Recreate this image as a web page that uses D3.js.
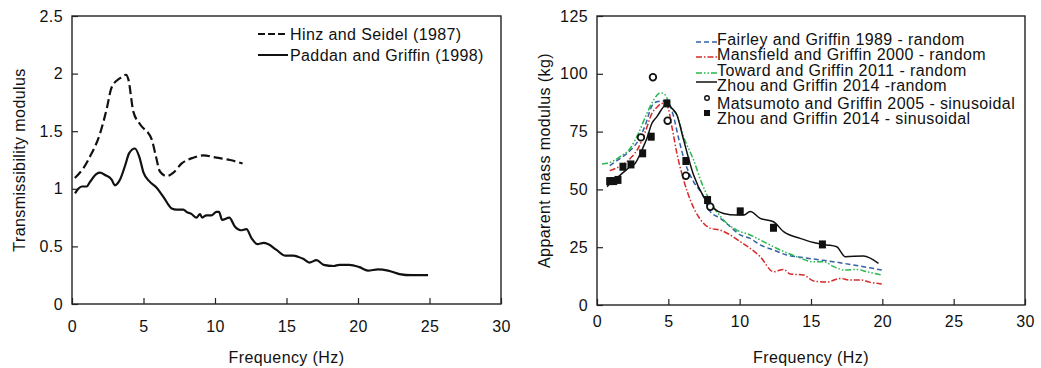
<!DOCTYPE html>
<html><head><meta charset="utf-8">
<script src="https://cdn.jsdelivr.net/npm/d3@7"></script>
<style>body{margin:0;background:#fff}svg{display:block}text{font-family:"Liberation Sans",Arial,sans-serif;fill:#111}</style>
</head><body><svg id="c" width="1041" height="368"></svg>
<script>
// ---- Left chart data ----
const leftXTicks = [0,5,10,15,20,25,30];
const leftYTicks = [0,0.5,1,1.5,2,2.5];
const hinzX = [0.2,0.8,1.26,1.96,2.42,2.77,3.36,3.78,3.94,4.29,4.76,5.57,5.87,6.15,6.62,7.09,7.67,8.48,9.18,10.1,11.05,11.93];
const hinzY = [1.094,1.18,1.28,1.48,1.69,1.88,1.96,1.99,1.95,1.67,1.56,1.43,1.28,1.15,1.11,1.14,1.22,1.27,1.29,1.27,1.25,1.22];
const paddanX = [0.21,0.44,0.68,1.03,1.26,1.72,1.96,2.31,2.77,3.0,3.36,3.71,4.0,4.4,4.7,5.0,5.45,5.92,6.39,6.97,7.32,7.79,8.0,8.37,8.7,8.95,9.1,9.4,9.77,10.1,10.28,10.5,11.0,11.4,11.8,12.2,12.56,12.96,13.4,13.7,14.3,14.9,15.5,15.8,16.2,16.6,17.1,17.6,18.3,18.7,19.4,20.1,20.7,21.4,22.1,22.9,23.75,24.9];
const paddanY = [0.96,1.0,1.02,1.02,1.06,1.13,1.14,1.12,1.08,1.03,1.08,1.2,1.31,1.35,1.28,1.14,1.06,1.01,0.93,0.83,0.82,0.82,0.80,0.78,0.75,0.78,0.75,0.77,0.77,0.80,0.80,0.73,0.75,0.67,0.64,0.65,0.57,0.52,0.53,0.52,0.47,0.42,0.42,0.41,0.39,0.36,0.38,0.34,0.33,0.34,0.34,0.32,0.29,0.30,0.29,0.26,0.25,0.25];
const leftLegend = ["Hinz and Seidel (1987)","Paddan and Griffin (1998)"];

// ---- Right chart data ----
const rightXTicks = [0,5,10,15,20,25,30];
const rightYTicks = [0,25,50,75,100,125];
const fairleyX = [0.89,1.63,2.33,2.92,3.39,3.85,4.2,4.67,5.02,5.37,5.72,6.19,6.77,7.35,7.94,8.64,9.34,10.04,10.74,11.44,12.37,13.3,14.47,15.64,16.8,17.98,19.1,19.96];
const fairleyY = [60.3,63.4,66.8,71.4,77.9,86.1,87.9,88.2,87.2,81.5,72.1,61.3,53.3,48.3,40.4,37.5,33.9,30.3,28.8,26.0,23.8,21.6,20.5,19.5,18.5,17.3,16.1,15.1];
const mansfieldX = [0.89,1.63,2.33,2.92,3.39,3.85,4.2,4.55,4.9,5.25,5.6,6.07,6.54,7.24,7.94,8.64,9.34,10.04,10.74,11.44,12.37,13.08,13.54,14.47,15.18,16.1,17.04,17.74,18.56,19.1,19.96];
const mansfieldY = [58.1,60.1,63.4,68.2,75.0,82.9,85.5,87.2,86.5,77.1,65.6,54.1,45.4,37.1,33.2,32.4,30.3,27.4,24.5,20.9,14.4,15.4,13.4,13.0,10.4,9.9,11.5,10.8,10.8,9.9,9.1];
const towardX = [0.35,0.93,1.63,2.33,2.92,3.5,3.97,4.44,4.79,5.14,5.6,6.07,6.77,7.35,8.17,8.87,9.8,10.74,11.67,12.84,14.0,15.18,15.88,16.58,17.4,18.2,18.9,19.96];
const towardY = [61.0,61.7,64.2,67.8,74.5,82.9,88.7,91.8,90.8,85.8,82.2,72.8,62.7,52.6,42.5,36.8,32.4,30.3,27.4,23.8,20.9,18.7,18.7,16.6,15.1,15.4,14.4,13.0];
const zhouRX = [0.7,1.05,1.63,2.33,2.68,3.15,3.5,3.85,4.2,4.67,4.9,5.25,5.6,6.07,6.77,7.47,8.17,8.87,9.8,10.27,10.74,11.44,12.37,13.08,14.24,15.18,16.1,16.8,17.4,18.68,19.73];
const zhouRY = [51.2,53.3,56.2,59.8,61.3,67.0,72.1,78.6,81.5,85.8,87.2,85.1,82.2,71.4,56.2,46.9,41.8,39.6,38.9,38.9,40.4,37.5,36.0,31.7,28.8,27.0,26.0,25.2,20.9,21.2,18.0];
const matsX = [3.08,3.92,4.95,6.23,7.94];
const matsY = [72.5,98.5,79.7,55.9,42.5];
const zhouSX = [0.89,1.17,1.47,1.82,2.38,3.2,3.8,4.9,6.23,7.75,10.04,12.37,15.8];
const zhouSY = [53.6,53.6,54.1,59.8,60.8,65.6,72.8,87.2,62.3,45.4,40.5,33.4,26.2];
const rightLegend = ["Fairley and Griffin 1989 - random","Mansfield and Griffin 2000 - random","Toward and Griffin 2011 - random","Zhou and Griffin 2014 -random","Matsumoto and Griffin 2005 - sinusoidal","Zhou and Griffin 2014 - sinusoidal"];

const svg = d3.select("#c");
const zip = (xs, ys) => xs.map((x,i)=>[x, ys[i]]);
const FS = "16px", LS = "0.4px";

function frame(o){
  const g = svg.append("g");
  const x = d3.scaleLinear().domain([0,30]).range([o.x0,o.x1]);
  const y = d3.scaleLinear().domain(o.ydom).range([o.y1,o.y0]);
  g.append("rect").attr("x",o.x0).attr("y",o.y0).attr("width",o.x1-o.x0).attr("height",o.y1-o.y0)
    .attr("fill","none").attr("stroke","#222").attr("stroke-width",1.4);
  const xa = g.append("g").attr("transform",`translate(0,${o.y1})`)
    .call(d3.axisBottom(x).tickValues(o.xt).tickSizeInner(-6).tickSizeOuter(0).tickPadding(o.xpad).tickFormat(d3.format("d")));
  const ya = g.append("g").attr("transform",`translate(${o.x0},0)`)
    .call(d3.axisLeft(y).tickValues(o.yt).tickSizeInner(-6).tickSizeOuter(0).tickPadding(9).tickFormat(d=>String(d)));
  [xa,ya].forEach(a=>{a.select(".domain").remove();a.selectAll("line").attr("stroke","#222").attr("stroke-width",1.2);
    a.selectAll("text").style("font-size",FS).style("letter-spacing",LS).attr("fill","#111").style("font-family","'Liberation Sans',Arial,sans-serif");});
  g.append("text").attr("x",(o.x0+o.x1)/2).attr("y",o.xtY).attr("text-anchor","middle").style("font-size",FS).style("letter-spacing",LS).text("Frequency (Hz)");
  g.append("text").attr("transform",`translate(${o.ytX},${(o.y0+o.y1)/2}) rotate(-90)`).attr("text-anchor","middle").style("font-size",FS).style("letter-spacing",LS).text(o.ytitle);
  return {g,x,y};
}

// Left
const L = frame({x0:72,x1:501,y0:16,y1:304,ydom:[0,2.5],xt:leftXTicks,yt:leftYTicks,xpad:17,xtY:363,ytX:25,ytitle:"Transmissibility modulus"});
const lineL = d3.line().x(d=>L.x(d[0])).y(d=>L.y(d[1])).curve(d3.curveMonotoneX);
L.g.append("path").attr("d",lineL(zip(hinzX,hinzY))).attr("fill","none").attr("stroke","#111").attr("stroke-width",2.2).attr("stroke-dasharray","9,4");
L.g.append("path").attr("d",lineL(zip(paddanX,paddanY))).attr("fill","none").attr("stroke","#111").attr("stroke-width",2.2);
leftLegend.forEach((t,i)=>{
  const yy = 34 + i*21;
  L.g.append("line").attr("x1",258).attr("x2",288).attr("y1",yy).attr("y2",yy).attr("stroke","#111").attr("stroke-width",2)
    .attr("stroke-dasharray", i===0?"7,3":null);
  L.g.append("text").attr("x",290).attr("y",yy+6).style("font-size",FS).style("letter-spacing",LS).text(t);
});

// Right
const R = frame({x0:597,x1:1025,y0:16,y1:305,ydom:[0,125],xt:rightXTicks,yt:rightYTicks,xpad:11,xtY:363,ytX:550,ytitle:"Apparent mass modulus (kg)"});
const lineR = d3.line().x(d=>R.x(d[0])).y(d=>R.y(d[1])).curve(d3.curveMonotoneX);
const series = [
  {xs:fairleyX,ys:fairleyY,c:"#3560a6",dash:"5,3",w:1.5},
  {xs:mansfieldX,ys:mansfieldY,c:"#d42a2a",dash:"6,2,1.5,2",w:1.5},
  {xs:towardX,ys:towardY,c:"#27b84e",dash:"6,2,1.5,2,1.5,2",w:1.5},
  {xs:zhouRX,ys:zhouRY,c:"#111",dash:null,w:1.5}
];
series.forEach(s=>{
  R.g.append("path").attr("d",lineR(zip(s.xs,s.ys))).attr("fill","none").attr("stroke",s.c).attr("stroke-width",s.w).attr("stroke-dasharray",s.dash);
});
R.g.selectAll("circle.m").data(zip(matsX,matsY)).join("circle").attr("class","m")
  .attr("cx",d=>R.x(d[0])).attr("cy",d=>R.y(d[1])).attr("r",3.3).attr("fill","#fff").attr("stroke","#111").attr("stroke-width",1.8);
R.g.selectAll("rect.s").data(zip(zhouSX,zhouSY)).join("rect").attr("class","s")
  .attr("x",d=>R.x(d[0])-3.5).attr("y",d=>R.y(d[1])-4).attr("width",7).attr("height",8).attr("fill","#111");
const legY = [40,55,71,86,104,119];
rightLegend.forEach((t,i)=>{
  const yy = legY[i];
  if(i<4){
    R.g.append("line").attr("x1",696).attr("x2",717).attr("y1",i===3?yy-4:yy+2).attr("y2",i===3?yy-4:yy+2)
      .attr("stroke",series[i].c).attr("stroke-width",1.5).attr("stroke-dasharray",series[i].dash);
  } else if(i===4){
    R.g.append("circle").attr("cx",707).attr("cy",yy-6).attr("r",2.3).attr("fill","#fff").attr("stroke","#111").attr("stroke-width",1.4);
  } else {
    R.g.append("rect").attr("x",704).attr("y",yy-9).attr("width",6).attr("height",6).attr("fill","#111");
  }
  R.g.append("text").attr("x",717).attr("y",yy+5).style("font-size",FS).style("letter-spacing",LS).text(t);
});
</script></body></html>
